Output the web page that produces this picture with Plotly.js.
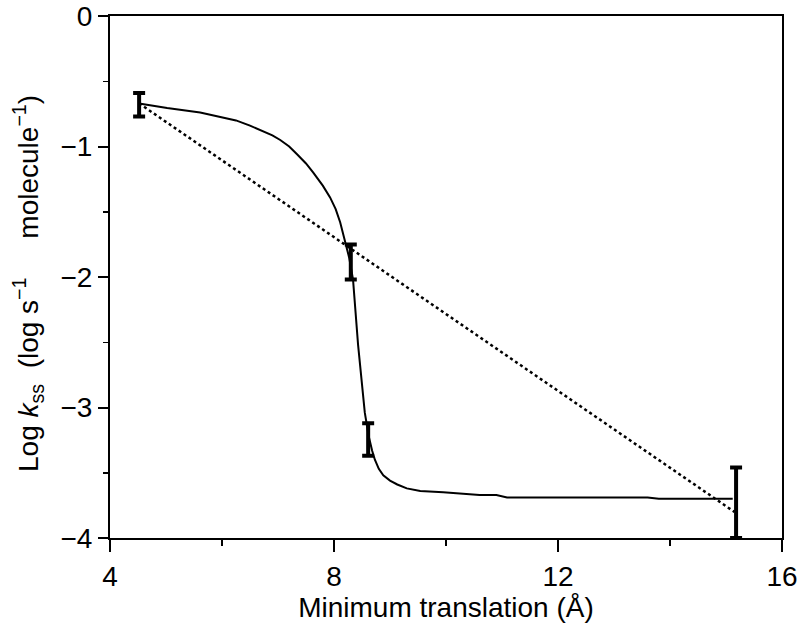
<!DOCTYPE html>
<html>
<head>
<meta charset="utf-8">
<script src="https://cdn.plot.ly/plotly-3.0.1.min.js"></script>
<style>html,body{margin:0;padding:0;background:#fff;}#chart{width:800px;height:630px;}</style>
</head>
<body>
<div id="chart"></div>
<script>
// Solid curve
const curveX = [4.52, 5.02, 5.61, 5.96, 6.25, 6.5, 6.73, 6.9, 7.04, 7.2, 7.34, 7.5, 7.63, 7.8, 7.93, 8.03, 8.11, 8.2, 8.27, 8.34, 8.43, 8.55, 8.62, 8.68, 8.73, 8.8, 8.88, 9.0, 9.13, 9.3, 9.54, 9.95, 10.6, 10.9, 11.09, 13.6, 13.8, 15.12];
const curveY = [-0.67, -0.705, -0.74, -0.77, -0.8, -0.84, -0.88, -0.915, -0.95, -1.0, -1.06, -1.13, -1.2, -1.3, -1.39, -1.48, -1.58, -1.72, -1.85, -2.02, -2.52, -3.04, -3.22, -3.33, -3.4, -3.47, -3.52, -3.56, -3.59, -3.62, -3.64, -3.65, -3.67, -3.67, -3.69, -3.69, -3.7, -3.7];

// Dotted straight line
const dotX = [4.52, 15.15];
const dotY = [-0.67, -3.8];

// Error bars: x position, lower and upper ends
const errX = [4.52, 8.3, 8.61, 15.18];
const errLow = [-0.77, -2.02, -3.37, -4.0];
const errHigh = [-0.59, -1.75, -3.12, -3.46];

// Tick labels
const xTicks = [4, 8, 12, 16];
const yTicks = [0, -1, -2, -3, -4];

const errMid = errX.map((_, i) => (errLow[i] + errHigh[i]) / 2);
const errHalf = errX.map((_, i) => (errHigh[i] - errLow[i]) / 2);

const traces = [
  {x: dotX, y: dotY, mode: 'lines', line: {color: '#000', width: 2.5, dash: 'dot'}, hoverinfo: 'skip'},
  {x: curveX, y: curveY, mode: 'lines', line: {color: '#000', width: 2}, hoverinfo: 'skip'},
  {x: errX, y: errMid, mode: 'none', cliponaxis: false,
   error_y: {type: 'data', array: errHalf, symmetric: true, color: '#000', thickness: 4, width: 6}}
];

const fam = '"Liberation Sans", Arial, sans-serif';
const font = {family: fam, size: 28, color: '#000'};

const layout = {
  width: 800, height: 630,
  margin: {l: 110, r: 18, t: 16, b: 92},
  paper_bgcolor: '#fff', plot_bgcolor: '#fff',
  showlegend: false,
  font: font,
  xaxis: {
    range: [4, 16], tickvals: xTicks, ticktext: xTicks.map(String),
    showgrid: false, zeroline: false,
    showline: true, linecolor: '#000', linewidth: 2, mirror: true,
    ticks: 'outside', ticklen: 12, tickwidth: 2, tickcolor: '#000',
    minor: {dtick: 2, tick0: 4, ticks: 'outside', ticklen: 6, tickwidth: 1.5, tickcolor: '#000', showgrid: false},
    tickfont: font, ticklabeloverflow: 'allow',
    title: {text: 'Minimum translation (Å)', font: font, standoff: 4},
    automargin: false
  },
  yaxis: {
    range: [-4, 0], tickvals: yTicks, ticktext: yTicks.map(v => v === 0 ? '0' : '\u2212' + Math.abs(v)),
    showgrid: false, zeroline: false,
    showline: true, linecolor: '#000', linewidth: 2, mirror: true,
    ticks: 'outside', ticklen: 10, tickwidth: 2, tickcolor: '#000',
    minor: {dtick: 0.5, tick0: 0, ticks: 'outside', ticklen: 5, tickwidth: 1.5, tickcolor: '#000', showgrid: false},
    tickfont: font, ticklabeloverflow: 'allow',
    automargin: false
  },
  annotations: [{
    text: 'Log <i>k</i><sub>ss</sub>&nbsp; (log s<sup>\u22121</sup>&nbsp;&nbsp;&nbsp;&nbsp; molecule<sup>\u22121</sup>)',
    xref: 'paper', yref: 'paper', x: -0.122, y: 0.4866,
    xanchor: 'center', yanchor: 'middle', textangle: -90,
    showarrow: false, font: font
  }]
};

Plotly.newPlot('chart', traces, layout, {displayModeBar: false, staticPlot: true});
</script>
</body>
</html>
